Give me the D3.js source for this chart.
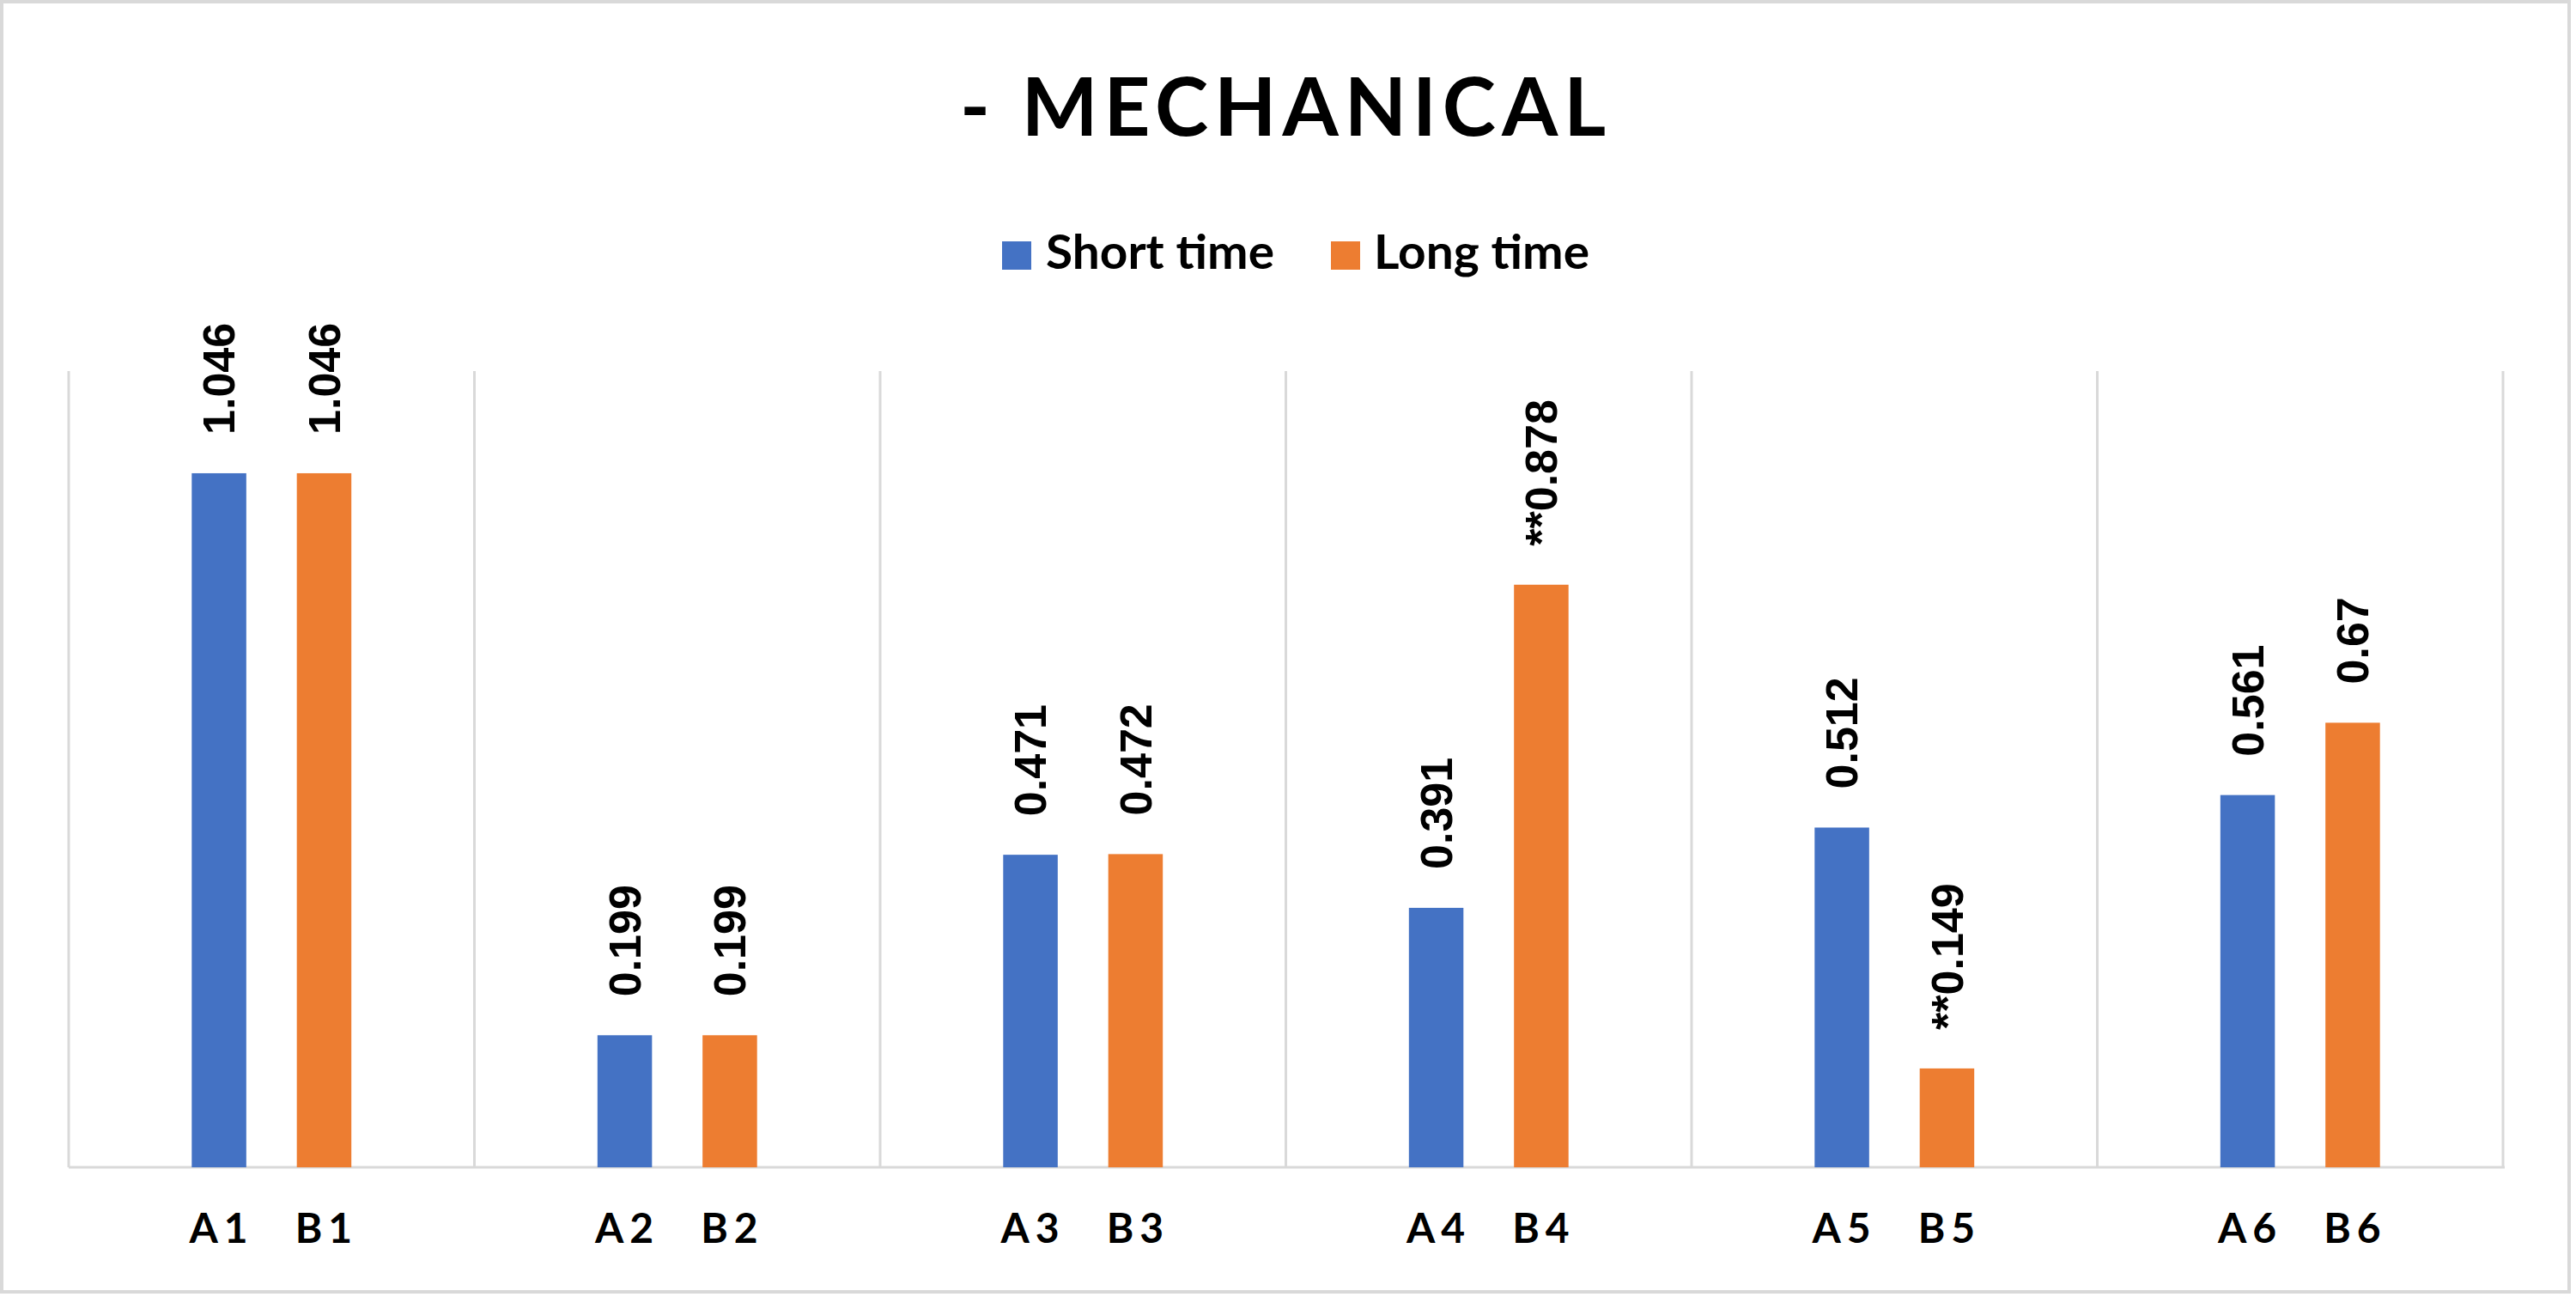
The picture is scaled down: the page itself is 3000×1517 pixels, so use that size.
<!DOCTYPE html>
<html>
<head>
<meta charset="utf-8">
<script src="https://cdn.jsdelivr.net/npm/d3@7"></script>
<style>
  html, body { margin: 0; padding: 0; background: #ffffff; }
  svg { display: block; }
</style>
</head>
<body>
<script>
// ---- data ----
const groups = ["1", "2", "3", "4", "5", "6"];
const seriesNames = ["Short time", "Long time"];
const shortValues = [1.046, 0.199, 0.471, 0.391, 0.512, 0.561];
const longValues  = [1.046, 0.199, 0.472, 0.878, 0.149, 0.67];
const shortLabels = ["1.046", "0.199", "0.471", "0.391", "0.512", "0.561"];
const longLabels  = ["1.046", "0.199", "0.472", "**0.878", "**0.149", "0.67"];
const shortCats = ["A1", "A2", "A3", "A4", "A5", "A6"];
const longCats  = ["B1", "B2", "B3", "B4", "B5", "B6"];
const titleText = "- MECHANICAL";

// ---- layout ----
const W = 3000, H = 1517;
const colors = { "Short time": "#4472C4", "Long time": "#ED7D31" };
const plot = { left: 80, right: 2915, top: 432, bottom: 1359 };

const svg = d3.select("body").append("svg").attr("width", W).attr("height", H);

// outer chart border
svg.append("rect")
  .attr("x", 2).attr("y", 2).attr("width", 2990).attr("height", 1502)
  .attr("fill", "#ffffff").attr("stroke", "#d9d9d9").attr("stroke-width", 4);

const x0 = d3.scaleBand().domain(groups).range([plot.left, plot.right]).padding(0);
const x1 = d3.scaleBand().domain(seriesNames).range([0, x0.bandwidth()])
  .paddingInner(0.481).paddingOuter(1.171);
const y = d3.scaleLinear().domain([0, 1.2]).range([plot.bottom, plot.top]);

// vertical category separators
const sepX = groups.map(g => x0(g)).concat([plot.right]);
svg.append("g").selectAll("line").data(sepX).join("line")
  .attr("x1", d => d).attr("x2", d => d)
  .attr("y1", plot.top).attr("y2", plot.bottom)
  .attr("stroke", "#d9d9d9").attr("stroke-width", 3);

// category axis line
svg.append("line")
  .attr("x1", plot.left).attr("x2", plot.right + 2)
  .attr("y1", plot.bottom).attr("y2", plot.bottom)
  .attr("stroke", "#d9d9d9").attr("stroke-width", 3);

// bar data
const bars = [];
groups.forEach((g, i) => {
  bars.push({ g, s: "Short time", v: shortValues[i], label: shortLabels[i], cat: shortCats[i] });
  bars.push({ g, s: "Long time", v: longValues[i], label: longLabels[i], cat: longCats[i] });
});

const bx = d => x0(d.g) + x1(d.s);
const bc = d => bx(d) + x1.bandwidth() / 2;

svg.append("g").selectAll("rect").data(bars).join("rect")
  .attr("x", bx)
  .attr("y", d => y(d.v))
  .attr("width", x1.bandwidth())
  .attr("height", d => y(0) - y(d.v))
  .attr("fill", d => colors[d.s]);

// data labels (rotated)
svg.append("g").selectAll("text").data(bars).join("text")
  .attr("transform", d => `translate(${bc(d)},${y(d.v) - 45}) rotate(-90)`)
  .attr("dy", "0.35em")
  .attr("text-anchor", "start")
  .attr("font-family", "'Liberation Sans', Arial, sans-serif")
  .attr("font-weight", "bold")
  .attr("font-size", 52)
  .attr("fill", "#000000")
  .text(d => d.label);

// category labels
svg.append("g").selectAll("text").data(bars).join("text")
  .attr("x", d => bc(d) + 3)
  .attr("y", 1447)
  .attr("text-anchor", "middle")
  .attr("font-family", "Lato, 'Open Sans', sans-serif")
  .attr("font-weight", "bold")
  .attr("font-size", 48)
  .attr("letter-spacing", 7)
  .attr("fill", "#000000")
  .text(d => d.cat);

// title
svg.append("text")
  .attr("x", 1118).attr("y", 158)
  .attr("textLength", 752).attr("lengthAdjust", "spacing")
  .attr("font-family", "Lato, 'Open Sans', sans-serif")
  .attr("font-weight", "bold")
  .attr("font-size", 94)
  .attr("fill", "#000000")
  .text(titleText);

// legend
const legendItems = [
  { s: "Short time", sx: 1167, tx: 1218, tw: 266 },
  { s: "Long time", sx: 1550, tx: 1600, tw: 251 }
];
const lg = svg.append("g");
lg.selectAll("rect").data(legendItems).join("rect")
  .attr("x", d => d.sx).attr("y", 281).attr("width", 34).attr("height", 33)
  .attr("fill", d => colors[d.s]);
lg.selectAll("text").data(legendItems).join("text")
  .attr("x", d => d.tx).attr("y", 313)
  .attr("textLength", d => d.tw).attr("lengthAdjust", "spacingAndGlyphs")
  .attr("font-family", "Lato, 'Open Sans', sans-serif")
  .attr("font-weight", "bold")
  .attr("font-size", 55)
  .attr("fill", "#000000")
  .text(d => d.s);
</script>
</body>
</html>
